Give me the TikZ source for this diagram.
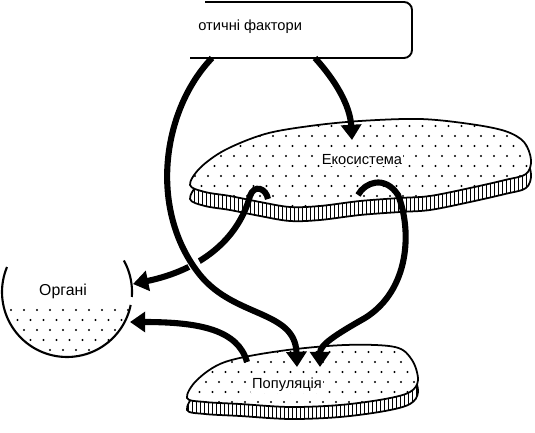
\documentclass[tikz,border=0pt]{standalone}
\usepackage{fontspec}
\setmainfont{Liberation Sans}
\usetikzlibrary{arrows.meta}
\tikzset{
  flow/.style={line width=5.2pt,-{Triangle[length=13pt,width=17pt]}},
  outline/.style={line width=1.5pt},
  lbl/.style={font=\fontsize{12.5}{14}\selectfont, inner sep=1pt},
  hatch/.style={line width=0.8pt},
  dotmark/.style={fill=black}
}
\newcommand\ecopath{plot[smooth cycle, tension=0.55] coordinates {(190,185) (200,168) (225,150) (265,134) (310,126) (360,121) (420,119) (470,124) (505,131) (524,142) (531,160) (526,174) (505,180) (470,188) (430,196) (400,198) (360,201) (320,206) (290,207) (260,202) (230,196) (205,192)}}
\newcommand\poppath{plot[smooth cycle, tension=0.55] coordinates {(187,398) (197,380) (225,362) (280,351) (345,345) (395,347) (412,360) (418,380) (410,392) (385,399) (340,405) (290,407) (240,404) (205,402)}}
\newcommand\dotgrid[4]{%
  \foreach \j in {0,...,#4}{\foreach \i in {0,...,#3}{%
    \fill[dotmark] ({#1+\i*13+mod(\j,2)*6.5},{#2+\j*10}) circle[radius=1.2];}}}
\begin{document}
\begin{tikzpicture}[x=0.03cm,y=-0.03cm]
\useasboundingbox (0,0) rectangle (535,433);

% ---- Ecosystem ----
\fill[white,shift={(0,14)}] \ecopath;
\begin{scope}
  \clip[shift={(0,14)}] \ecopath;
  \foreach \x in {186,190,...,536} \draw[hatch] (\x,110) -- (\x,240);
\end{scope}
\draw[outline,shift={(0,14)}] \ecopath;
\fill[white] \ecopath;
\begin{scope}
  \clip \ecopath;
  \dotgrid{182}{116}{28}{10}
\end{scope}
\draw[outline] \ecopath;
\node[lbl,fill=white] (eco) at (362,160) {Екосистема};

% ---- Population ----
\fill[white,shift={(0,12)}] \poppath;
\begin{scope}
  \clip[shift={(0,12)}] \poppath;
  \foreach \x in {184,188,...,424} \draw[hatch] (\x,340) -- (\x,425);
\end{scope}
\draw[outline,shift={(0,12)}] \poppath;
\fill[white] \poppath;
\begin{scope}
  \clip \poppath;
  \dotgrid{180}{342}{19}{7}
\end{scope}
\draw[outline] \poppath;
\node[lbl,fill=white] (pop) at (287,385) {Популяція};

% ---- Organism ----
\begin{scope}
  \clip (0,305) rectangle (140,360);
  \clip (67,292) circle[radius=65];
  \dotgrid{-2}{310}{11}{5}
\end{scope}
\draw[outline,line width=1.8pt] plot[domain=202.6:11.5,samples=60] ({67+65*cos(\x)},{292+65*sin(\x)});
\draw[outline,line width=1.8pt] plot[domain=4.4:-29,samples=20] ({67+65*cos(\x)},{292+65*sin(\x)});
\node[lbl,font=\fontsize{13.5}{15}\selectfont] (org) at (63,291) {Органі};

% ---- Box ----
\draw[outline,line width=1.6pt] (205,2) -- (404,2) to[out=0,in=90] (412,10) -- (412,50) to[out=-90,in=0] (404,58);
\draw[outline,line width=2.2pt] (404,58) -- (190,58);
\node[lbl,anchor=west] (abio) at (197,27) {отичні фактори};

% ---- coordinates ----
\coordinate (b1) at (315,58);
\coordinate (e1) at (352,140);
\coordinate (b2) at (212,58);
\coordinate (p1) at (297,367);
\coordinate (e2) at (268,199);
\coordinate (o1) at (133,284);
\coordinate (p2) at (247,362);
\coordinate (o2) at (130,322);
\coordinate (e3) at (358,195);
\coordinate (p3) at (320,367);

% ---- arrows ----
\draw[flow] (b1) .. controls (335,80) and (350,105) .. (e1);
\draw[flow] (e2) .. controls (266,188) and (254,184) .. (250,196) .. controls (238,240) and (200,270) .. (o1);
\draw[white,line width=10pt] (185,240) .. controls (190,258) and (195,268) .. (205,280);
\draw[flow] (b2) .. controls (162,110) and (148,210) .. (200,275) .. controls (235,318) and (295,310) .. (p1);
\draw[flow] (p2) .. controls (238,330) and (200,322) .. (o2);
\draw[flow] (e3) .. controls (365,182) and (385,175) .. (398,195) .. controls (412,230) and (410,290) .. (365,318) .. controls (335,335) and (320,345) .. (p3);
\end{tikzpicture}
\end{document}
